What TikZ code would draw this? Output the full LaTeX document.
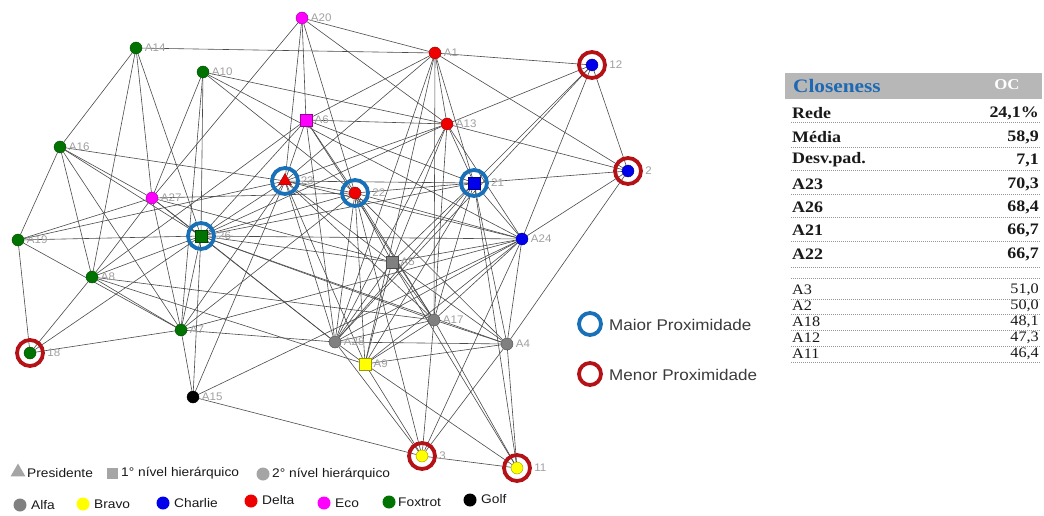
\documentclass[tikz,border=0pt]{standalone}
\usepackage{fontspec}
\setmainfont{Liberation Serif}
\setsansfont{Liberation Sans}
\newfontfamily\tabfont[FakeStretch=1.12]{Liberation Serif}
\newfontfamily\legfont[FakeStretch=1.1]{Liberation Sans}
\newfontfamily\lblfont[FakeStretch=1.05]{Liberation Sans}
\usetikzlibrary{shapes.geometric}

\definecolor{cRed}{RGB}{238,0,0}
\definecolor{cBlue}{RGB}{0,0,235}
\definecolor{cGreen}{RGB}{0,115,0}
\definecolor{cMag}{RGB}{255,0,255}
\definecolor{cGrey}{RGB}{128,128,128}
\definecolor{cYel}{RGB}{255,255,0}
\definecolor{cBlack}{RGB}{0,0,0}
\definecolor{legGrey}{RGB}{165,165,165}
\definecolor{ringBlue}{RGB}{24,112,184}
\definecolor{ringRed}{RGB}{180,18,22}
\definecolor{edgeGrey}{RGB}{75,75,75}
\definecolor{lblGrey}{RGB}{160,160,160}
\definecolor{hdrGrey}{RGB}{183,183,183}
\definecolor{hdrBlue}{RGB}{30,105,180}
\definecolor{txtDark}{RGB}{25,25,25}
\definecolor{dotGrey}{RGB}{150,150,150}

\pgfdeclarelayer{bg}
\pgfdeclarelayer{edgelayer}
\pgfdeclarelayer{ringlayer}
\pgfsetlayers{bg,edgelayer,ringlayer,main}

\tikzset{
  vc/.style={circle, fill=#1, draw=#1!60!black, line width=0.4pt, minimum size=12pt, inner sep=0pt},
  vs/.style={rectangle, fill=#1, draw=#1!60!black, line width=0.4pt, minimum size=11.5pt, inner sep=0pt},
  vt/.style={regular polygon, regular polygon sides=3, fill=#1, draw=#1!60!black, line width=0.4pt, minimum size=15pt, inner sep=0pt},
  lbl/.style={text=lblGrey, font=\lblfont\fontsize{11}{11}\selectfont, inner sep=0.5pt},
  nl/.style={label={[lbl, xshift=2pt]right:#1}},
  rl/.style={label={[lbl, xshift=10.5pt]right:#1}},
  link/.style={draw=edgeGrey, line width=0.6pt},
  ringB/.style={draw=ringBlue, line width=3.8pt},
  ringR/.style={draw=ringRed, line width=3.8pt},
  legtxt/.style={font=\legfont\fontsize{12.5}{12.5}\selectfont, text=txtDark, inner sep=0pt, anchor=west},
  keytxt/.style={font=\legfont\fontsize{15.5}{15.5}\selectfont, text=txtDark!85, inner sep=0pt, anchor=west},
  rowB/.style={font=\tabfont\bfseries\fontsize{16}{16}\selectfont, text=txtDark, inner sep=0pt},
  rowR/.style={font=\tabfont\fontsize{14.5}{14.5}\selectfont, text=txtDark, inner sep=0pt},
  dotline/.style={draw=dotGrey, line width=0.9pt, dash pattern=on 0.9pt off 1.1pt},
}

\begin{document}
\begin{tikzpicture}[x=1pt, y=-1pt]
\useasboundingbox (0,0) rectangle (1044,516);
\begin{pgfonlayer}{bg}
  \fill[white] (0,0) rectangle (1044,516);
\end{pgfonlayer}

% ---------- actors ----------
\node[vc=cMag,   nl=A20] (A20) at (302,18)  {};
\node[vc=cGreen, nl=A14] (A14) at (136,48)  {};
\node[vc=cGreen, nl=A10] (A10) at (203,72)  {};
\node[vc=cRed,   nl=A1]  (A1)  at (435,53)  {};
\node[vc=cBlue,  rl=12]  (A12) at (592,65)  {};
\node[vs=cMag,   nl=A6]  (A6)  at (306,120) {};
\node[vc=cRed,   nl=A13] (A13) at (447,124) {};
\node[vc=cGreen, nl=A16] (A16) at (60,147)  {};
\node[vt=cRed,   rl=23]  (A23) at (285,181) {};
\node[vc=cRed,   rl=22]  (A22) at (355,193) {};
\node[vs=cBlue,  rl=21]  (A21) at (474,183) {};
\node[vc=cBlue,  rl=2]   (A2)  at (628,171) {};
\node[vc=cMag,   nl=A27] (A27) at (152,198) {};
\node[vs=cGreen, rl=26]  (A26) at (201,236) {};
\node[vc=cGreen, nl=A19] (A19) at (18,240)  {};
\node[vc=cBlue,  nl=A24] (A24) at (522,239) {};
\node[vs=cGrey,  nl=A5]  (A5)  at (392,262) {};
\node[vc=cGreen, nl=A8]  (A8)  at (92,277)  {};
\node[vc=cGrey,  nl=A17] (A17) at (434,320) {};
\node[vc=cGreen, nl=A7]  (A7)  at (181,330) {};
\node[vc=cGrey,  nl=A28] (A28) at (335,342) {};
\node[vc=cGrey,  nl=A4]  (A4)  at (507,344) {};
\node[vc=cGreen, rl=18]  (A18) at (30,353)  {};
\node[vs=cYel,   nl=A9]  (A9)  at (365,364) {};
\node[vc=cBlack, nl=A15] (A15) at (193,397) {};
\node[vc=cYel,   rl=3]   (A3)  at (422,456) {};
\node[vc=cYel,   rl=11]  (A11) at (517,468) {};

% ---------- ties ----------
\begin{pgfonlayer}{edgelayer}
\foreach \a/\b in {
  A14/A1, A14/A16, A14/A8, A14/A27, A14/A26,
  A10/A13, A10/A27, A10/A26, A10/A7, A10/A22, A10/A24,
  A20/A1, A20/A13, A20/A27, A20/A6, A20/A23, A20/A22,
  A1/A12, A1/A6, A1/A23, A1/A13, A1/A21, A1/A17, A1/A28, A1/A2, A1/A9,
  A12/A2, A12/A24, A12/A13, A12/A21, A12/A28,
  A13/A6, A13/A23, A13/A21, A13/A24, A13/A5, A13/A17, A13/A28, A13/A2, A13/A26,
  A6/A23, A6/A22, A6/A26, A6/A21, A6/A17, A6/A28, A6/A8,
  A16/A23, A16/A27, A16/A26, A16/A19, A16/A8, A16/A7,
  A27/A19, A27/A26, A27/A8, A27/A7, A27/A28, A27/A22, A27/A5,
  A19/A26, A19/A23, A19/A7, A19/A18,
  A23/A26, A23/A22, A23/A21, A23/A5, A23/A7, A23/A15, A23/A28, A23/A17, A23/A24, A23/A9,
  A22/A21, A22/A24, A22/A5, A22/A28, A22/A9, A22/A4, A22/A26, A22/A17, A22/A3,
  A21/A24, A21/A5, A21/A17, A21/A4, A21/A28, A21/A9, A21/A26, A21/A2, A21/A11,
  A2/A24, A2/A4,
  A24/A5, A24/A28, A24/A17, A24/A9, A24/A4, A24/A3, A24/A26, A24/A15, A24/A7,
  A5/A28, A5/A17, A5/A4, A5/A9, A5/A26, A5/A11,
  A8/A26, A8/A7, A8/A18, A8/A17, A8/A9,
  A7/A26, A7/A15, A7/A18, A7/A28, A7/A22,
  A18/A26, A15/A26, A15/A3,
  A28/A9, A28/A17, A28/A4, A28/A3, A28/A26,
  A17/A4, A17/A9, A17/A3, A17/A11, A17/A26,
  A9/A4, A9/A3, A9/A11,
  A4/A11, A4/A3, A4/A26,
  A3/A11}
  {\draw[link] (\a) -- (\b);}
\end{pgfonlayer}

% ---------- highlight rings ----------
\begin{pgfonlayer}{ringlayer}
\foreach \n in {A23,A22,A21,A26} {\draw[ringB] (\n.center) circle (13pt);}
\foreach \n in {A12,A2,A18,A3,A11} {\draw[ringR] (\n.center) circle (13pt);}
\end{pgfonlayer}

% ---------- ring key ----------
\node[circle, draw=ringBlue, line width=3.8pt, minimum size=22pt, inner sep=0pt] (keyMax) at (590,324) {};
\node[keytxt] (keyMaxT) at (609,325) {Maior Proximidade};
\node[circle, draw=ringRed, line width=3.8pt, minimum size=22pt, inner sep=0pt] (keyMin) at (590,374) {};
\node[keytxt] (keyMinT) at (609,375) {Menor Proximidade};

% ---------- shape and group key ----------
\node[vt=legGrey, draw=none, minimum size=17pt] (kPres) at (18,472) {};
\node[legtxt] (kPresT) at (27,473) {Presidente};
\node[vs=legGrey, draw=none, minimum size=11pt] (kLv1) at (112,473) {};
\node[legtxt] (kLv1T) at (121,473) {1° nível hierárquico};
\node[vc=legGrey, draw=none, minimum size=13pt] (kLv2) at (263,474) {};
\node[legtxt] (kLv2T) at (272,474) {2° nível hierárquico};

\node[vc=cGrey,  draw=none, minimum size=13pt] (gAlfa)  at (20,505)  {};
\node[legtxt] (gAlfaT)  at (31,505)  {Alfa};
\node[vc=cYel,   draw=none, minimum size=13pt] (gBravo) at (83,504)  {};
\node[legtxt] (gBravoT) at (94,504)  {Bravo};
\node[vc=cBlue,  draw=none, minimum size=13pt] (gCharlie) at (163,503) {};
\node[legtxt] (gCharlieT) at (174,503) {Charlie};
\node[vc=cRed,   draw=none, minimum size=13pt] (gDelta) at (251,501) {};
\node[legtxt] (gDeltaT) at (262,500) {Delta};
\node[vc=cMag,   draw=none, minimum size=13pt] (gEco)   at (324,503) {};
\node[legtxt] (gEcoT)   at (335,503) {Eco};
\node[vc=cGreen, draw=none, minimum size=13pt] (gFox)   at (389,502) {};
\node[legtxt] (gFoxT)   at (398,502) {Foxtrot};
\node[vc=cBlack, draw=none, minimum size=13pt] (gGolf)  at (470,500) {};
\node[legtxt] (gGolfT)  at (481,499) {Golf};

% ---------- closeness table ----------
\node[fill=hdrGrey, minimum width=257pt, minimum height=26pt, inner sep=0pt, anchor=north west] (hdr) at (785,73) {};
\node[anchor=west, text=hdrBlue, font=\tabfont\bfseries\fontsize{19}{19}\selectfont, inner sep=0pt] (hdrT) at (793,86) {Closeness};
\node[text=white, font=\tabfont\bfseries\fontsize{15}{15}\selectfont, inner sep=0pt] (hdrOC) at (1007,85) {OC};

\foreach \lab/\val/\yy [count=\i] in {Rede/{24,1\%}/113, Média/{58,9}/137, Desv.pad./{7,1}/160,
    A23/{70,3}/184, A26/{68,4}/207, A21/{66,7}/230, A22/{66,7}/254}
{
  \node[rowB, anchor=west] (bl\i) at (792,\yy) {\lab};
  \node[rowB, anchor=east] (bv\i) at (1039,\yy) {\val};
}
\foreach \lab/\val/\yy [count=\i] in {A3/{51,0}/290, A2/{50,0}/306, A18/{48,1}/322, A12/{47,3}/338, A11/{46,4}/354}
{
  \node[rowR, anchor=west] (rl\i) at (792,\yy) {\lab};
  \node[rowR, anchor=east] (rv\i) at (1039,\yy) {\val};
}
\foreach \yy in {122,147,170,194,217,241,267,278,299,314,330,346,362}
  {\draw[dotline] (791,\yy) -- (1040,\yy);}
\end{tikzpicture}
\end{document}
